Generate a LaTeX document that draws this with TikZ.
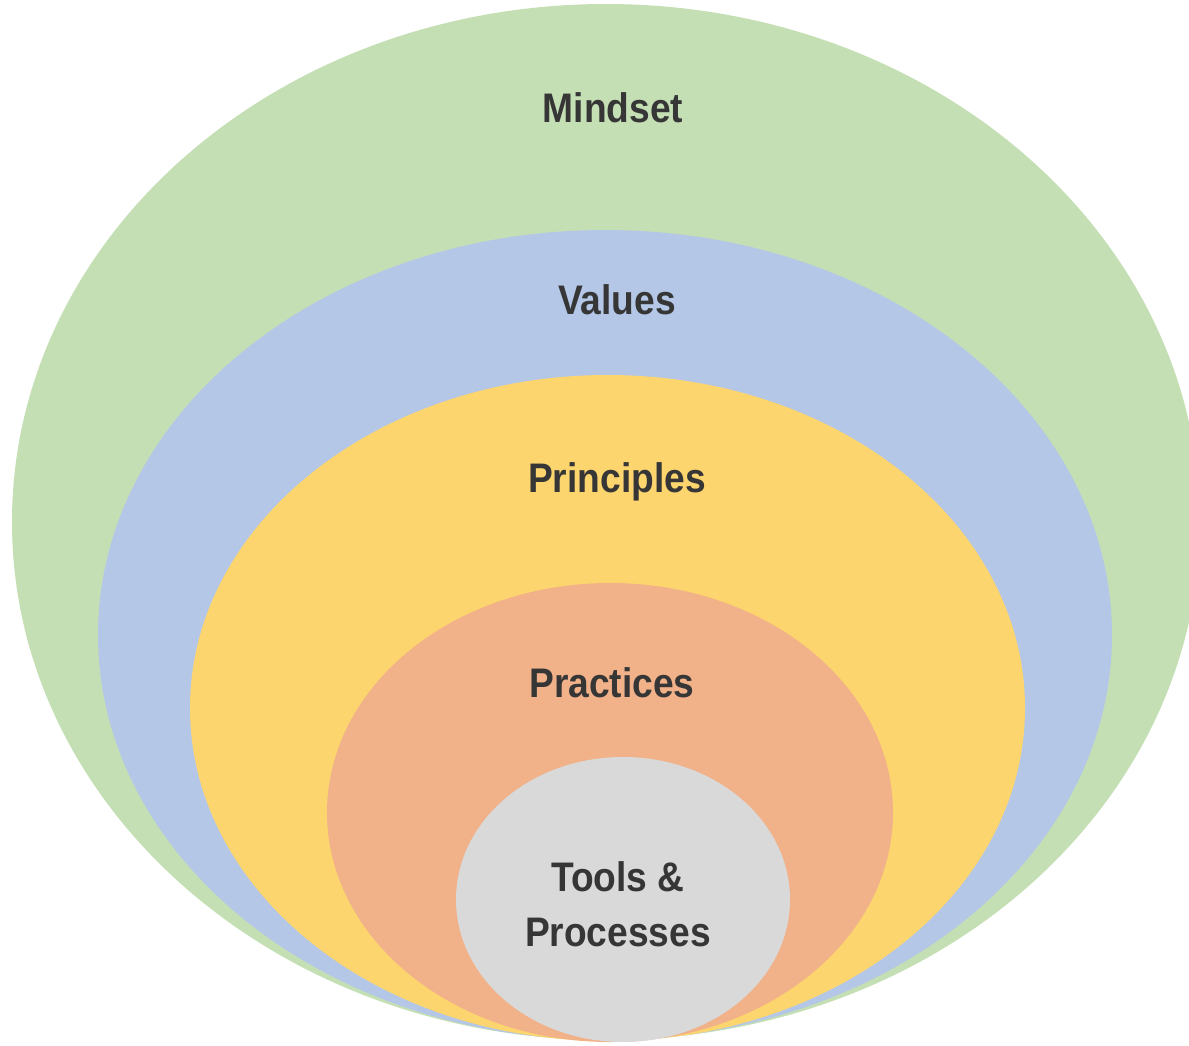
\documentclass[tikz,border=0pt]{standalone}
\usepackage{fontspec}
\newfontfamily\lblfont[FakeStretch=0.9]{Liberation Sans}
\usetikzlibrary{shapes.geometric}

\definecolor{mindsetGreen}{HTML}{C5DFB5}
\definecolor{valuesBlue}{HTML}{B4C7E6}
\definecolor{principlesYellow}{HTML}{FDD56E}
\definecolor{practicesOrange}{HTML}{F1B189}
\definecolor{toolsGrey}{HTML}{D9D9D9}
\definecolor{labelText}{HTML}{363636}

\begin{document}
\begin{tikzpicture}
[x=0.02cm,y=-0.02cm,
  layerDecorate/.style={shape=ellipse,inner sep=0pt,draw=none},%
  labelDecorate/.style={inner sep=0pt,text=labelText,align=center,
    font=\lblfont\bfseries\fontsize{23.5}{31}\selectfont}]
\useasboundingbox (0,0) rectangle (1189,1045);
\clip (0,0) rectangle (1189,1045);
%% nested layers, outermost first
\foreach \layername/\x/\y/\rx/\ry/\col in {
  mindset/606/522/594/518/mindsetGreen,
  values/605/635/507/405/valuesBlue,
  principles/607.5/708/417.5/333/principlesYellow,
  practices/610/812.5/283/229.5/practicesOrange,
  tools/623/899.5/167/142.5/toolsGrey}
{
  \node (\layername) at (\x,\y) [layerDecorate,fill=\col,
    minimum width=2*\rx*0.02cm,minimum height=2*\ry*0.02cm] {};
}
%% layer labels
\node (mindsetlbl) at (613,108) [labelDecorate] {Mindset};
\node (valueslbl) at (617,300) [labelDecorate] {Values};
\node (principleslbl) at (617,482) [labelDecorate] {Principles};
\node (practiceslbl) at (612,683) [labelDecorate] {Practices};
\node (toolslbl) at (618,904) [labelDecorate] {Tools \&\\Processes};
\end{tikzpicture}
\end{document}
